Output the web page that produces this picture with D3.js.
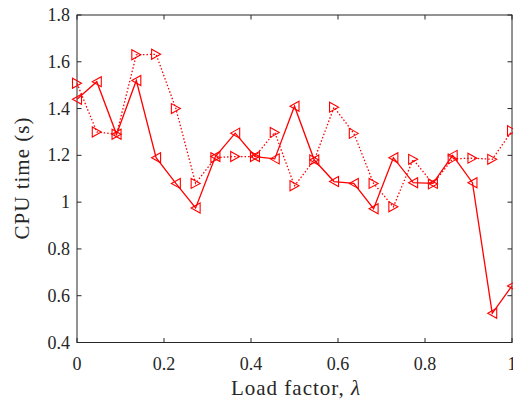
<!DOCTYPE html>
<html>
<head>
<meta charset="utf-8">
<script src="https://cdn.jsdelivr.net/npm/d3@7"></script>
<style>
  body { margin: 0; background: #fff; }
  text { font-family: "Liberation Serif", "DejaVu Serif", serif; fill: #262626; }
</style>
</head>
<body>
<script>
// load factor values, 23 steps from 0 to 1
const loadFactor = d3.range(23).map(i => i / 22)

const cpuSolid = [1.44, 1.515, 1.29, 1.52, 1.19, 1.08, 0.975, 1.195, 1.295, 1.195, 1.185,
  1.41, 1.18, 1.088, 1.08, 0.972, 1.19, 1.083, 1.08, 1.2, 1.083, 0.525, 0.642]
const cpuDotted = [1.508, 1.3, 1.29, 1.63, 1.632, 1.4, 1.08, 1.19, 1.195, 1.195, 1.298,
  1.07, 1.18, 1.406, 1.294, 1.08, 0.98, 1.183, 1.078, 1.185, 1.188, 1.183, 1.305]

const xTicks = [0, 0.2, 0.4, 0.6, 0.8, 1]
const yTicks = [0.4, 0.6, 0.8, 1, 1.2, 1.4, 1.6, 1.8]

const m = { width: 513, height: 406 }
const plot = { left: 77, right: 512, top: 15, bottom: 342.5 }

const svg = d3.select('body').append('svg')
    .attr('width', m.width)
    .attr('height', m.height)

const x = d3.scaleLinear().domain([0, 1]).range([plot.left, plot.right])
const y = d3.scaleLinear().domain([0.4, 1.8]).range([plot.bottom, plot.top])

const axisColor = '#262626'

// box
svg.append('rect')
    .attr('x', plot.left)
    .attr('y', plot.top)
    .attr('width', plot.right - plot.left)
    .attr('height', plot.bottom - plot.top)
    .attr('fill', 'none')
    .attr('stroke', axisColor)
    .attr('stroke-width', 1)

const tickLen = 4.5

// x ticks, bottom and top, pointing inward
xTicks.forEach(function(t) {
    svg.append('line')
        .attr('x1', x(t)).attr('x2', x(t))
        .attr('y1', plot.bottom).attr('y2', plot.bottom - tickLen)
        .attr('stroke', axisColor)
    svg.append('line')
        .attr('x1', x(t)).attr('x2', x(t))
        .attr('y1', plot.top).attr('y2', plot.top + tickLen)
        .attr('stroke', axisColor)
    svg.append('text')
        .attr('x', x(t))
        .attr('y', plot.bottom + 27)
        .attr('text-anchor', 'middle')
        .attr('font-size', 18)
        .text(d3.format('~g')(t))
})

yTicks.forEach(function(t) {
    svg.append('line')
        .attr('x1', plot.left).attr('x2', plot.left + tickLen)
        .attr('y1', y(t)).attr('y2', y(t))
        .attr('stroke', axisColor)
    svg.append('line')
        .attr('x1', plot.right).attr('x2', plot.right - tickLen)
        .attr('y1', y(t)).attr('y2', y(t))
        .attr('stroke', axisColor)
    svg.append('text')
        .attr('x', plot.left - 7)
        .attr('y', y(t) + 6)
        .attr('text-anchor', 'end')
        .attr('font-size', 18)
        .text(d3.format('~g')(t))
})

// axis labels
const xl = svg.append('text')
    .attr('x', 296)
    .attr('y', 395)
    .attr('text-anchor', 'middle')
    .attr('font-size', 21)
    .attr('letter-spacing', 1)
xl.append('tspan').text('Load factor, ')
xl.append('tspan').attr('font-style', 'italic').text('λ')

svg.append('text')
    .attr('transform', 'translate(29,178) rotate(-90)')
    .attr('text-anchor', 'middle')
    .attr('font-size', 21)
    .attr('letter-spacing', 1)
    .text('CPU time (s)')

// triangle markers
function tri(dir) {
    const w = 9, h = 10
    if (dir === 'left') return 'M' + (-w / 2) + ',0 L' + (w / 2) + ',' + (-h / 2) + ' L' + (w / 2) + ',' + (h / 2) + ' Z'
    return 'M' + (w / 2) + ',0 L' + (-w / 2) + ',' + (-h / 2) + ' L' + (-w / 2) + ',' + (h / 2) + ' Z'
}

const series = [
    { values: cpuSolid, dash: null, dir: 'left' },
    { values: cpuDotted, dash: '1.5,2', dir: 'right' }
]

const line = d3.line()
    .x(d => x(d[0]))
    .y(d => y(d[1]))

series.forEach(function(s) {
    const pts = loadFactor.map((v, i) => [v, s.values[i]])
    svg.append('path')
        .datum(pts)
        .attr('d', line)
        .attr('fill', 'none')
        .attr('stroke', '#ff0000')
        .attr('stroke-width', 1.3)
        .attr('stroke-dasharray', s.dash)

    svg.selectAll(null)
        .data(pts)
        .enter()
        .append('path')
            .attr('d', tri(s.dir))
            .attr('transform', d => 'translate(' + x(d[0]) + ',' + y(d[1]) + ')')
            .attr('fill', 'none')
            .attr('stroke', '#ff0000')
            .attr('stroke-width', 1.1)
})
</script>
</body>
</html>
